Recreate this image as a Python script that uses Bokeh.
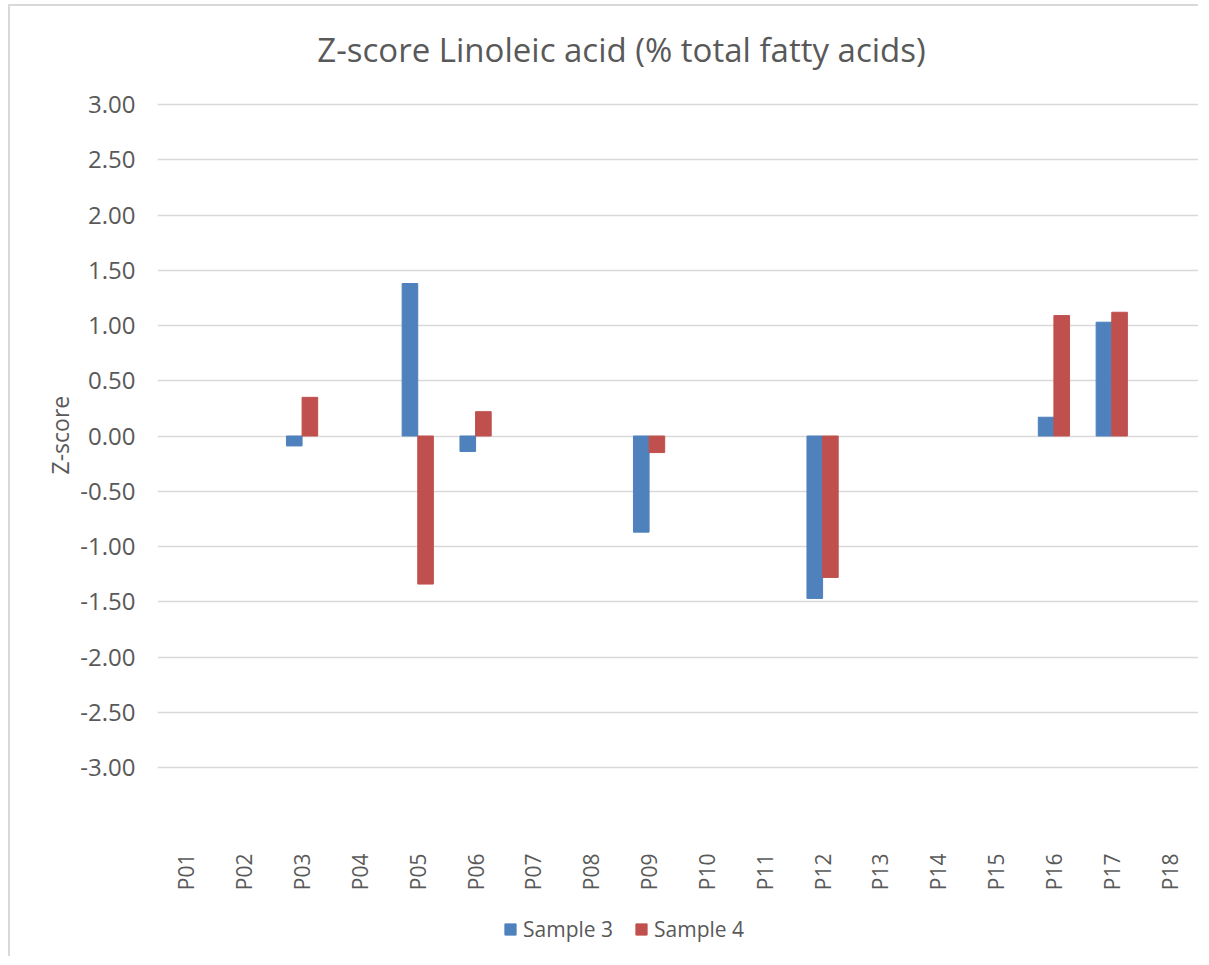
import math
from bokeh.plotting import figure
from bokeh.models import (FactorRange, Range1d, ColumnDataSource, Legend, LegendItem,
                          Title, Label, FixedTicker, NumeralTickFormatter)
from bokeh.transform import dodge
from bokeh.embed import file_html
from bokeh.resources import INLINE

nan = float("nan")

categories = ["P01", "P02", "P03", "P04", "P05", "P06", "P07", "P08", "P09",
              "P10", "P11", "P12", "P13", "P14", "P15", "P16", "P17", "P18"]
sample3 = [nan, nan, -0.09, nan, 1.38, -0.14, nan, nan, -0.87,
           nan, nan, -1.47, nan, nan, nan, 0.17, 1.03, nan]
sample4 = [nan, nan, 0.35, nan, -1.34, 0.22, nan, nan, -0.15,
           nan, nan, -1.28, nan, nan, nan, 1.09, 1.12, nan]
series_names = ["Sample 3", "Sample 4"]
y_ticks = [-3.0, -2.5, -2.0, -1.5, -1.0, -0.5, 0.0, 0.5, 1.0, 1.5, 2.0, 2.5, 3.0]
title_text = "Z-score Linoleic acid (% total fatty acids)"
y_label = "Z-score"

BLUE = "#4f81bd"
RED = "#c0504d"
GREY_TXT = "#595959"
GRID = "#d9d9d9"
FONT = "Open Sans"

source = ColumnDataSource(data=dict(cat=categories, s3=sample3, s4=sample4))

# The frame spans from the title row down to the legend row; the -3 .. 3 scale
# occupies its middle part, as in the spreadsheet chart.
p = figure(x_range=FactorRange(*categories), y_range=Range1d(-4.7195, 3.878),
           width=1190, height=952, output_backend="svg", toolbar_location=None,
           min_border_left=147, min_border_right=2, min_border_top=1,
           min_border_bottom=1)
p.styles = {"border-left": "2px solid #d9d9d9", "border-top": "2px solid #d9d9d9",
            "border-right": "0px none white", "border-bottom": "0px none white",
            "margin-left": "8px", "margin-top": "4px"}
p.outline_line_color = None
p.background_fill_color = "white"
p.border_fill_color = "white"

r3 = p.vbar(x=dodge("cat", -0.135, range=p.x_range), top="s3", bottom=0, width=0.27,
            source=source, fill_color=BLUE, line_color=BLUE)
r4 = p.vbar(x=dodge("cat", 0.135, range=p.x_range), top="s4", bottom=0, width=0.27,
            source=source, fill_color=RED, line_color=RED)

# grid
p.xgrid.grid_line_color = None
p.ygrid.grid_line_color = GRID
p.ygrid.grid_line_width = 1.5

# y axis
p.yaxis.ticker = FixedTicker(ticks=y_ticks)
p.ygrid.ticker = FixedTicker(ticks=y_ticks)
p.yaxis.formatter = NumeralTickFormatter(format="0.00")
p.yaxis.axis_line_color = None
p.yaxis.major_tick_line_color = None
p.yaxis.minor_tick_line_color = None
p.yaxis.major_tick_out = 0
p.yaxis.major_label_standoff = 22
p.yaxis.major_label_text_font = FONT
p.yaxis.major_label_text_font_size = "24px"
p.yaxis.major_label_text_color = GREY_TXT

# y axis title (placed next to the axis, aligned with the 0 line)
ytitle = Title(text=y_label, align="left", offset=483, text_font=FONT,
               text_font_size="23px", text_color=GREY_TXT, text_font_style="normal",
               standoff=4)
p.add_layout(ytitle, "left")

# x axis (labels pulled up into the space under the -3 gridline)
p.xaxis.axis_line_color = None
p.xaxis.major_tick_line_color = None
p.xaxis.minor_tick_line_color = None
p.xaxis.major_tick_out = 0
p.xaxis.major_tick_in = 0
p.xaxis.major_label_orientation = math.pi / 2
p.xaxis.major_label_standoff = -104
p.xaxis.major_label_text_font = FONT
p.xaxis.major_label_text_font_size = "21px"
p.xaxis.major_label_text_color = GREY_TXT

# chart title
title = Label(x=464, y=908, x_units="screen", y_units="screen", text=title_text,
              text_align="center", text_baseline="middle", text_font=FONT,
              text_font_size="33px", text_color=GREY_TXT)
p.add_layout(title, "center")

legend = Legend(items=[LegendItem(label=series_names[0], renderers=[r3]),
                       LegendItem(label=series_names[1], renderers=[r4])],
                location=(346, 14), orientation="horizontal")
legend.padding = 0
legend.margin = 0
legend.border_line_color = None
legend.background_fill_alpha = 0
legend.glyph_width = 14
legend.glyph_height = 14
legend.label_standoff = 6
legend.spacing = 21
legend.label_text_font = FONT
legend.label_text_font_size = "21px"
legend.label_text_color = GREY_TXT
p.add_layout(legend, "center")

open("out.html", "w").write(file_html(p, INLINE))
